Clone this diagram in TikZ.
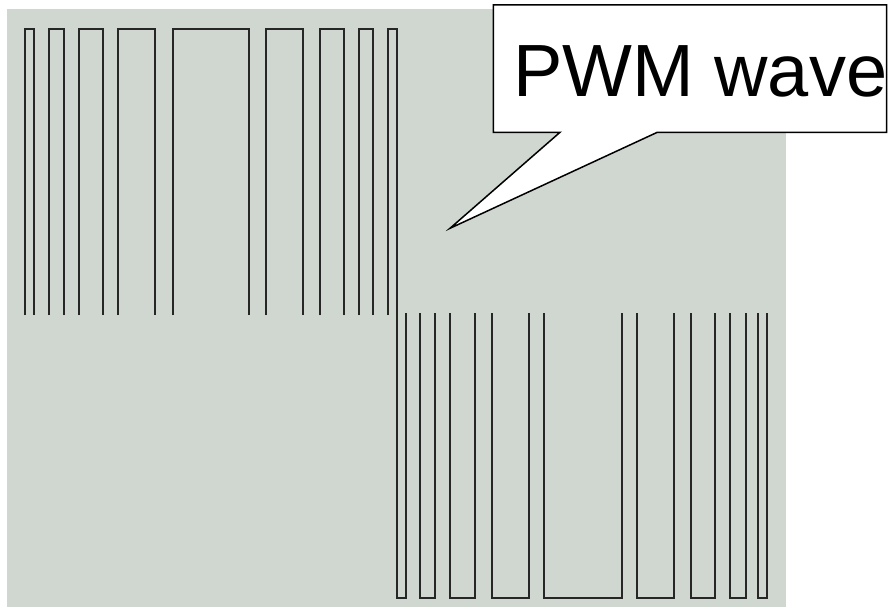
\documentclass[tikz,border=0pt]{standalone}
\usepackage{fontspec}
\setmainfont{Liberation Sans}
\begin{document}
\begin{tikzpicture}[x=1pt,y=-1pt,
  wave/.style={line width=1.8pt, black!85, line join=miter},
  callout/.style={draw=black, fill=white, line width=1.5pt, line join=miter}]
\useasboundingbox (0,0) rectangle (891,607);
\definecolor{bggrey}{RGB}{208,215,209}
\fill[bggrey] (7,9) rectangle (786,607);
% top waveform: inverted pulses
\foreach \a/\b in {25/33.7, 49/64.3, 79.3/103.3, 118.3/155.3, 172.7/249.3, 266/303, 320.3/344.3, 359.3/372.7}
  \draw[wave] (\a,315) -- (\a,29) -- (\b,29) -- (\b,315);
% transition pulse
\draw[wave] (387.7,315) -- (387.7,29) -- (396.7,29) -- (396.7,598.3) -- (405.7,598.3) -- (405.7,313.3);
% bottom waveform: U pulses
\foreach \a/\b in {420.3/435.3, 450.3/474.7, 491.7/528.7, 543.7/622, 637/674, 691.3/715.3, 730.3/745.7, 758.3/767.3}
  \draw[wave] (\a,313.3) -- (\a,598.3) -- (\b,598.3) -- (\b,313.3);
% callout
\coordinate (tip) at (450,228.3);
\draw[callout] (493.3,5) -- (886.7,5) -- (886.7,132.3) -- (657.3,132.3) -- (tip) -- (560,132.3) -- (493.3,132.3) -- cycle;
\node[anchor=base west, inner sep=0pt, font=\fontsize{74}{80}\selectfont] (lbl) at (513,96.5) {PWM wave};
\end{tikzpicture}
\end{document}
